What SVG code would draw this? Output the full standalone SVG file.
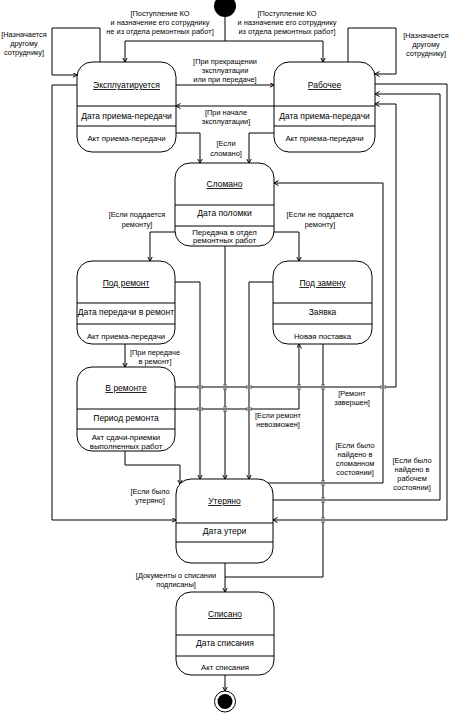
<svg xmlns="http://www.w3.org/2000/svg" width="453" height="713" viewBox="0 0 453 713">
<defs>
<style>
text{font-family:"Liberation Sans",Arial,sans-serif;fill:#000;text-anchor:middle}
.t{font-size:8.5px;text-decoration:underline}
.a{font-size:8.5px}
.s{font-size:7.8px}
.l{font-size:7.4px}
.box{fill:#fff;stroke:#000;stroke-width:1}
.div{stroke:#000;stroke-width:1}
.c{fill:none;stroke:#000;stroke-width:1}
.ca{fill:none;stroke:#000;stroke-width:1;marker-end:url(#arr)}
.tick{fill:none;stroke:#333;stroke-width:0.8}
</style>
<marker id="arr" markerWidth="6" markerHeight="6" refX="4.5" refY="2.5" orient="auto" markerUnits="userSpaceOnUse">
<path d="M0,0 L4.5,2.5 L0,5" fill="none" stroke="#000" stroke-width="1"/>
</marker>
</defs>
<rect width="453" height="713" fill="#fff"/>

<g id="connectors">
<path class="c" d="M225,17 V41"/>
<path class="ca" d="M225,41 H125 V62"/>
<path class="ca" d="M225,41 H323 V62"/>
<path class="ca" d="M100,62 V28 H52 V75 H77"/>
<path class="ca" d="M348,62 V28 H396 V74 H375"/>
<path class="ca" d="M176,85 H274"/>
<path class="ca" d="M274,106 H176"/>
<path class="ca" d="M176,133 H200 V163"/>
<path class="ca" d="M274,133 H249 V163"/>
<path class="ca" d="M77,85 H52 V520 H176"/>
<path class="ca" d="M175,232 H150 V261"/>
<path class="ca" d="M274,232 H299 V261"/>
<path class="ca" d="M125,344 V367"/>
<path class="ca" d="M175,282 H200 V479"/>
<path class="c" d="M225,246 V385 M225,389 V407"/>
<path class="ca" d="M225,411 V479"/>
<path class="ca" d="M273,282 H249 V479"/>
<path class="ca" d="M125,451 V465 H180 V484"/>
<path class="c" d="M175,387 H198 M202,387 H247 M251,387 H381"/>
<path class="ca" d="M385,387 H396 V104 H375"/>
<path class="c" d="M175,409 H198 M202,409 H247 M251,409 H299 V389"/>
<path class="ca" d="M299,385 V344"/>
<path class="c" d="M323,344 V385 M323,389 V481 M323,485 V498 M323,502 V518 M323,522 V577 H225"/>
<path class="ca" d="M225,563 V592"/>
<path class="ca" d="M268,483 H383 V183 H274"/>
<path class="ca" d="M273,500 H440 V94 H375"/>
<path class="ca" d="M375,84 H447 V520 H273"/>
<path class="ca" d="M225,675 V691"/>
<path class="tick" d="M198,385 V389 M202,385 V389 M247,385 V389 M251,385 V389 M381,385 V389 M385,385 V389
M198,407 V411 M202,407 V411 M247,407 V411 M251,407 V411
M223,385 H227 M223,389 H227 M223,407 H227 M223,411 H227
M297,385 H301 M297,389 H301
M321,385 H325 M321,389 H325 M321,481 H325 M321,485 H325 M321,498 H325 M321,502 H325 M321,518 H325 M321,522 H325"/>
<text class="l" x="160" y="16">[Поступление КО</text>
<text class="l" x="160" y="25">и назначение его сотруднику</text>
<text class="l" x="160" y="34">не из отдела ремонтных работ]</text>
<text class="l" x="287" y="16">[Поступление КО</text>
<text class="l" x="287" y="25">и назначение его сотруднику</text>
<text class="l" x="287" y="34">из отдела ремонтных работ]</text>
<text class="l" x="24" y="37">[Назначается</text>
<text class="l" x="24" y="46">другому</text>
<text class="l" x="24" y="55">сотруднику]</text>
<text class="l" x="426" y="38">[Назначается</text>
<text class="l" x="426" y="47">другому</text>
<text class="l" x="426" y="56">сотруднику]</text>
<text class="l" x="225" y="64">[При прекращении</text>
<text class="l" x="225" y="73">эксплуатации</text>
<text class="l" x="225" y="82">или при передаче]</text>
<text class="l" x="226" y="115">[При начале</text>
<text class="l" x="226" y="124">эксплуатации]</text>
<text class="l" x="226" y="146">[Если</text>
<text class="l" x="226" y="156">сломано]</text>
<text class="l" x="137" y="217">[Если поддается</text>
<text class="l" x="137" y="227">ремонту]</text>
<text class="l" x="320" y="217">[Если не поддается</text>
<text class="l" x="320" y="227">ремонту]</text>
<text class="l" x="155" y="355">[При передаче</text>
<text class="l" x="155" y="364">в ремонт]</text>
<text class="l" x="352" y="396">[Ремонт</text>
<text class="l" x="352" y="405">завершен]</text>
<text class="l" x="278" y="418">[Если ремонт</text>
<text class="l" x="278" y="427">невозможен]</text>
<text class="l" x="355" y="448">[Если было</text>
<text class="l" x="355" y="457">найдено в</text>
<text class="l" x="355" y="466">сломанном</text>
<text class="l" x="355" y="475">состоянии]</text>
<text class="l" x="412" y="463">[Если было</text>
<text class="l" x="412" y="472">найдено в</text>
<text class="l" x="412" y="481">рабочем</text>
<text class="l" x="412" y="490">состоянии]</text>
<text class="l" x="150" y="494">[Если было</text>
<text class="l" x="150" y="503">утеряно]</text>
<text class="l" x="176" y="578">[Документы о списании</text>
<text class="l" x="176" y="587">подписаны]</text>
</g>

<g id="initial">
<circle cx="225" cy="6" r="11" fill="#000"/>
</g>

<g id="state-expl">
<rect class="box" x="77" y="62" width="99" height="90" rx="15"/>
<path class="div" d="M77,106 H176 M77,126 H176"/>
<text class="t" x="126.5" y="88">Эксплуатируется</text>
<text class="a" x="126.5" y="119">Дата приема-передачи</text>
<text class="s" x="126.5" y="141">Акт приема-передачи</text>
</g>

<g id="state-work">
<rect class="box" x="274" y="62" width="101" height="90" rx="15"/>
<path class="div" d="M274,106 H375 M274,126 H375"/>
<text class="t" x="324.5" y="88">Рабочее</text>
<text class="a" x="324.5" y="119">Дата приема-передачи</text>
<text class="s" x="324.5" y="141">Акт приема-передачи</text>
</g>

<g id="state-broken">
<rect class="box" x="175" y="163" width="99" height="83" rx="15"/>
<path class="div" d="M175,205 H274 M175,226 H274"/>
<text class="t" x="224.5" y="187">Сломано</text>
<text class="a" x="224.5" y="216">Дата поломки</text>
<text class="s" x="224.5" y="235">Передача в отдел</text>
<text class="s" x="224.5" y="243">ремонтных работ</text>
</g>

<g id="state-torepair">
<rect class="box" x="77" y="261" width="98" height="83" rx="15"/>
<path class="div" d="M77,303 H175 M77,324 H175"/>
<text class="t" x="126" y="286">Под ремонт</text>
<text class="a" x="126" y="315">Дата передачи в ремонт</text>
<text class="s" x="126" y="339">Акт приема-передачи</text>
</g>

<g id="state-replace">
<rect class="box" x="273" y="261" width="99" height="83" rx="15"/>
<path class="div" d="M273,303 H372 M273,324 H372"/>
<text class="t" x="322.5" y="286">Под замену</text>
<text class="a" x="322.5" y="315">Заявка</text>
<text class="s" x="322.5" y="339">Новая поставка</text>
</g>

<g id="state-inrepair">
<rect class="box" x="77" y="367" width="98" height="84" rx="15"/>
<path class="div" d="M77,409 H175 M77,429 H175"/>
<text class="t" x="126" y="391">В ремонте</text>
<text class="a" x="126" y="421">Период ремонта</text>
<text class="s" x="126" y="440">Акт сдачи-приемки</text>
<text class="s" x="126" y="449">выполненных работ</text>
</g>

<g id="state-lost">
<rect class="box" x="176" y="479" width="97" height="84" rx="15"/>
<path class="div" d="M176,523 H273 M176,542 H273"/>
<text class="t" x="224.5" y="504">Утеряно</text>
<text class="a" x="224.5" y="534">Дата утери</text>
</g>

<g id="state-writtenoff">
<rect class="box" x="176" y="592" width="98" height="83" rx="15"/>
<path class="div" d="M176,635 H274 M176,656 H274"/>
<text class="t" x="225" y="617">Списано</text>
<text class="a" x="225" y="646">Дата списания</text>
<text class="s" x="225" y="670">Акт списания</text>
</g>

<g id="final">
<circle cx="225" cy="701.5" r="10.5" fill="#fff" stroke="#000" stroke-width="1"/>
<circle cx="225" cy="701.5" r="7.5" fill="#000"/>
</g>
</svg>
